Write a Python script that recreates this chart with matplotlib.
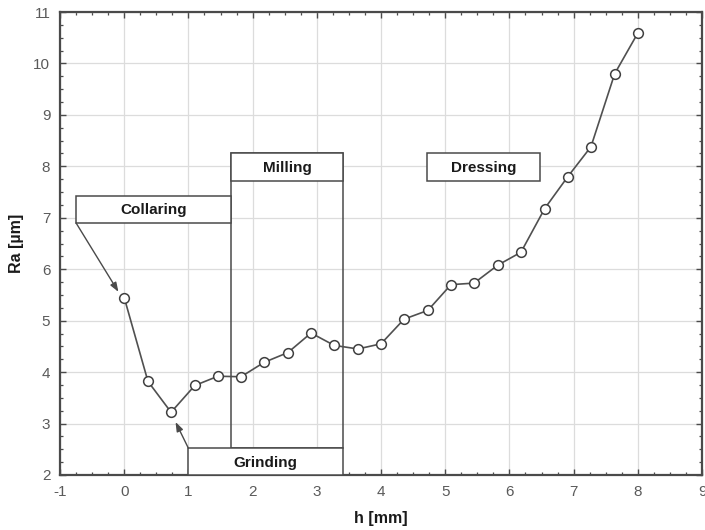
"""Surface roughness Ra versus depth h, with process stage labels."""

import matplotlib

matplotlib.use("Agg")

import matplotlib.pyplot as plt
from matplotlib.patches import Rectangle
from matplotlib.ticker import MultipleLocator

h_mm = [0.0, 0.37, 0.73, 1.10, 1.46, 1.82, 2.18, 2.55, 2.91, 3.27, 3.64, 4.00,
        4.36, 4.73, 5.09, 5.45, 5.82, 6.18, 6.55, 6.91, 7.27, 7.64, 8.00]
ra_um = [5.45, 3.82, 3.22, 3.74, 3.92, 3.91, 4.19, 4.38, 4.76, 4.52, 4.45, 4.55,
         5.03, 5.20, 5.70, 5.73, 6.08, 6.33, 7.18, 7.80, 8.38, 9.80, 10.59]

stages = ["Collaring", "Milling", "Grinding", "Dressing"]

EDGE = "#4a4a4a"
TICK_GREY = "#5a5a5a"


def main() -> None:
    plt.rcParams["font.family"] = ["Liberation Sans", "DejaVu Sans"]
    plt.rcParams["axes.unicode_minus"] = False

    fig = plt.figure(figsize=(7.05, 5.3), dpi=100)
    ax = fig.add_axes([60 / 705, 1 - 475 / 530, 642 / 705, 463 / 530])

    ax.set_xlim(-1, 9)
    ax.set_ylim(2, 11)
    ax.xaxis.set_major_locator(MultipleLocator(1))
    ax.yaxis.set_major_locator(MultipleLocator(1))
    ax.xaxis.set_minor_locator(MultipleLocator(0.25))
    ax.yaxis.set_minor_locator(MultipleLocator(0.25))
    ax.grid(True, which="major", color="#dcdcdc", lw=0.9, zorder=0)
    ax.tick_params(which="both", direction="in", top=True, right=True,
                   color=EDGE, labelcolor=TICK_GREY, labelsize=11)
    ax.tick_params(which="major", length=4, width=1.0, pad=7)
    ax.tick_params(which="minor", length=2.5, width=0.9)
    for spine in ax.spines.values():
        spine.set_color(EDGE)
        spine.set_linewidth(1.6)

    # Milling: tall frame down to the grinding box
    ax.add_patch(Rectangle((1.66, 2.52), 1.75, 5.74, fill=False,
                           ec=EDGE, lw=1.1, zorder=3))
    boxes = {
        "Collaring": (-0.75, 6.90, 2.41, 0.53),
        "Milling": (1.66, 7.71, 1.75, 0.55),
        "Grinding": (1.00, 2.0, 2.41, 0.52),
        "Dressing": (4.72, 7.71, 1.76, 0.55),
    }
    for name in stages:
        x0, y0, w, hgt = boxes[name]
        ax.add_patch(Rectangle((x0, y0), w, hgt, fc="white", ec=EDGE,
                               lw=1.1, zorder=3, clip_on=False))
        ax.text(x0 + w / 2, y0 + hgt / 2 - 0.02, name, ha="center",
                va="center", fontsize=11, fontweight="bold", color="#1a1a1a",
                zorder=4)

    arrow = dict(arrowstyle="-|>,head_length=0.55,head_width=0.2",
                 color=EDGE, lw=1.0, shrinkA=0, shrinkB=0)
    ax.annotate("", xy=(-0.09, 5.56), xytext=(-0.75, 6.90),
                arrowprops=arrow, zorder=3)
    ax.annotate("", xy=(0.80, 3.03), xytext=(1.00, 2.52),
                arrowprops=arrow, zorder=3)

    ax.plot(h_mm, ra_um, color="#505050", lw=1.2, marker="o", ms=7,
            mfc="white", mec="#404040", mew=1.1, zorder=5)

    ax.set_xlabel("h [mm]", fontsize=11.5, fontweight="bold", color="#1a1a1a",
                  va="center")
    ax.xaxis.set_label_coords(0.5, -0.093)
    ax.set_ylabel("Ra [µm]", fontsize=11.5, fontweight="bold", color="#1a1a1a",
                  va="center")
    ax.yaxis.set_label_coords(-0.067, 0.5)

    fig.savefig("out.png", dpi=100)


if __name__ == "__main__":
    main()
